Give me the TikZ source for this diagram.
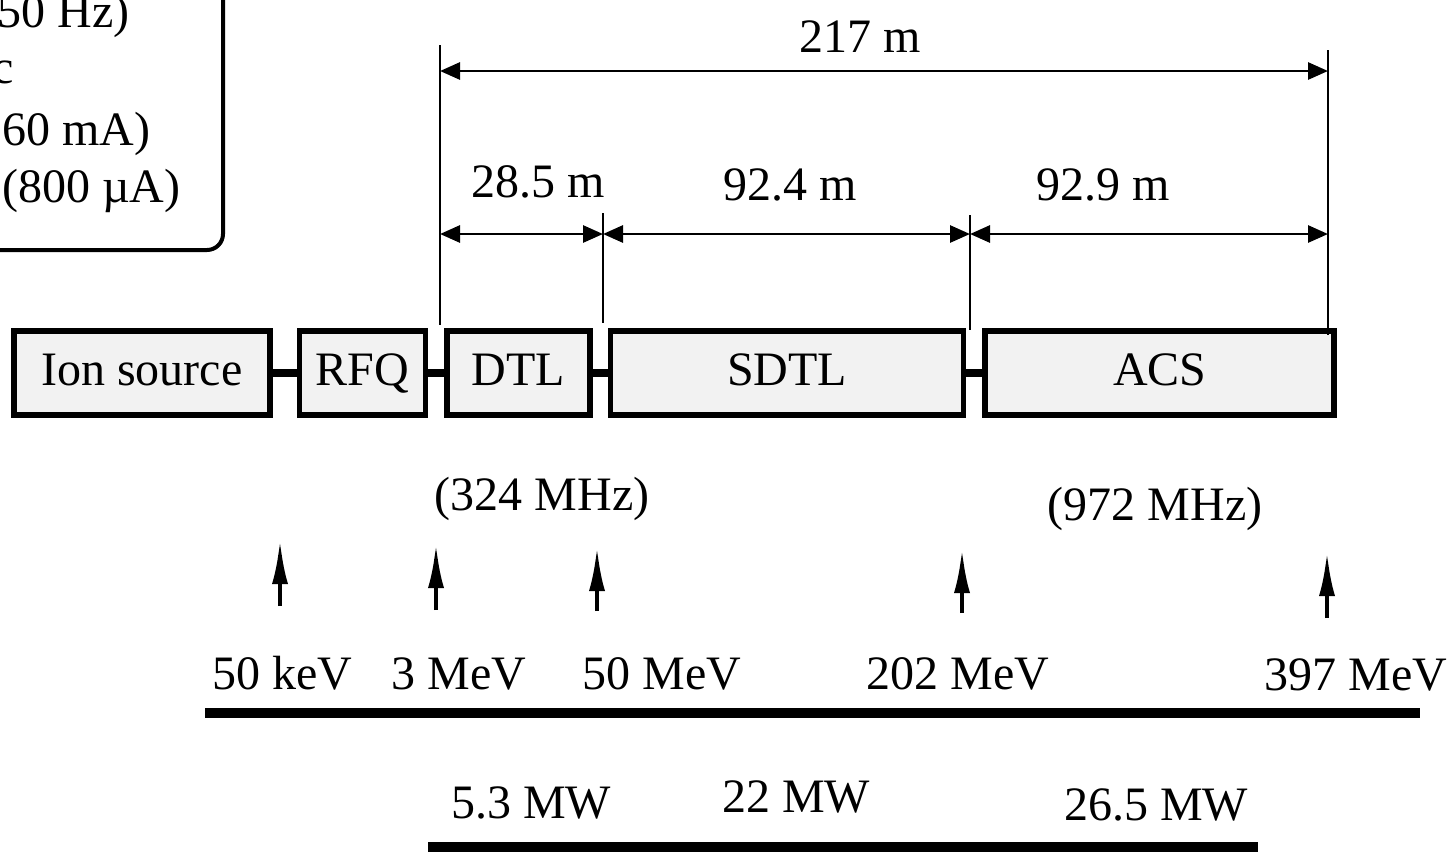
\documentclass[tikz,border=0pt]{standalone}
\usepackage{fontspec}
\setmainfont{Liberation Serif}
\usetikzlibrary{arrows.meta,positioning}
\tikzset{
  stage/.style={
    rectangle,
    draw=black,
    line width=2.8pt,
    fill=black!5,
    minimum height=42pt,
    text height=16pt,
    text depth=4pt,
    inner sep=0pt
  },
  legendbox/.style={
    rectangle,
    rounded corners=8pt,
    draw=black,
    line width=2pt,
    inner sep=0pt
  },
  tag/.style={
    inner sep=0pt,
    anchor=base
  },
  link/.style={
    line width=4pt,
    draw=black
  },
  dimline/.style={
    {Triangle[length=10pt,width=8.5pt]}-{Triangle[length=10pt,width=8.5pt]},
    line width=1.4pt,
    draw=black
  },
  extline/.style={
    line width=1.2pt,
    draw=black
  },
  beamarrow/.style={
    -{Latex[length=22pt,width=8pt]},
    line width=2.2pt,
    draw=black
  },
  scalebar/.style={
    line width=5pt,
    draw=black
  }
}

\begin{document}
\begin{tikzpicture}[x=0.5pt, y=-0.5pt, font=\fontsize{24}{28}\selectfont]
  \clip (0,0) rectangle (1449,853);

  % legend box, mostly cut off
  \node[legendbox, minimum width=140pt, minimum height=150pt, anchor=south east] (legend) at (225,252) {};
  \node[tag, anchor=base east] (rep) at (130,27) {50 Hz)};
  \node[tag, anchor=base east] (pulse) at (14,83) {c};
  \node[tag, anchor=base east] (peak) at (151,145) {60 mA)};
  \node[tag, anchor=base east] (avg) at (181,202) {(800 µA)};

  % linac stages
  \node[stage, minimum width=128pt, anchor=west] (ion) at (11,373) {Ion source};
  \node[stage, minimum width=63pt, right=12pt of ion] (rfq) {RFQ};
  \node[stage, minimum width=71.5pt, right=8pt of rfq] (dtl) {DTL};
  \node[stage, minimum width=176.5pt, right=7.5pt of dtl] (sdtl) {SDTL};
  \node[stage, minimum width=174.5pt, right=8pt of sdtl] (acs) {ACS};

  \draw[link] (ion) -- (rfq);
  \draw[link] (rfq) -- (dtl);
  \draw[link] (dtl) -- (sdtl);
  \draw[link] (sdtl) -- (acs);

  % lengths
  \coordinate (x0top) at (440,45);
  \coordinate (x0bot) at (440,325);
  \coordinate (x1top) at (603,213);
  \coordinate (x1bot) at (603,323);
  \coordinate (x2top) at (970,215);
  \coordinate (x2bot) at (970,330);
  \coordinate (x3top) at (1328,50);
  \coordinate (x3bot) at (1328,335);
  \draw[extline] (x0top) -- (x0bot);
  \draw[extline] (x1top) -- (x1bot);
  \draw[extline] (x2top) -- (x2bot);
  \draw[extline] (x3top) -- (x3bot);

  \coordinate (t0) at (440,71);
  \coordinate (t1) at (1328,71);
  \coordinate (s0) at (440,234);
  \coordinate (s1) at (603,234);
  \coordinate (s2) at (970,234);
  \coordinate (s3) at (1328,234);
  \draw[dimline] (t0) -- (t1);
  \draw[dimline] (s0) -- (s1);
  \draw[dimline] (s1) -- (s2);
  \draw[dimline] (s2) -- (s3);

  \node[tag] (ltot) at (860,52) {217 m};
  \node[tag] (ldtl) at (538,197) {28.5 m};
  \node[tag] (lsdtl) at (790,200) {92.4 m};
  \node[tag] (lacs) at (1103,200) {92.9 m};

  % rf frequencies
  \node[tag] (f324) at (542,510) {(324 MHz)};
  \node[tag] (f972) at (1155,520) {(972 MHz)};

  % energies
  \coordinate (a0s) at (280,606);
  \coordinate (a0e) at (280,540);
  \coordinate (a1s) at (436,610);
  \coordinate (a1e) at (436,544);
  \coordinate (a2s) at (597,611);
  \coordinate (a2e) at (597,547);
  \coordinate (a3s) at (962,613);
  \coordinate (a3e) at (962,549);
  \coordinate (a4s) at (1327,618);
  \coordinate (a4e) at (1327,552);
  \draw[beamarrow] (a0s) -- (a0e);
  \draw[beamarrow] (a1s) -- (a1e);
  \draw[beamarrow] (a2s) -- (a2e);
  \draw[beamarrow] (a3s) -- (a3e);
  \draw[beamarrow] (a4s) -- (a4e);

  \node[tag] (e0) at (282,689) {50 keV};
  \node[tag] (e1) at (459,689) {3 MeV};
  \node[tag] (e2) at (662,689) {50 MeV};
  \node[tag] (e3) at (958,689) {202 MeV};
  \node[tag] (e4) at (1356,690) {397 MeV};

  \coordinate (eb0) at (205,713);
  \coordinate (eb1) at (1420,713);
  \draw[scalebar] (eb0) -- (eb1);

  % rf power
  \node[tag] (p0) at (531,818) {5.3 MW};
  \node[tag] (p1) at (796,812) {22 MW};
  \node[tag] (p2) at (1156,820) {26.5 MW};

  \coordinate (pb0) at (428,847);
  \coordinate (pb1) at (1258,847);
  \draw[scalebar] (pb0) -- (pb1);
\end{tikzpicture}
\end{document}
